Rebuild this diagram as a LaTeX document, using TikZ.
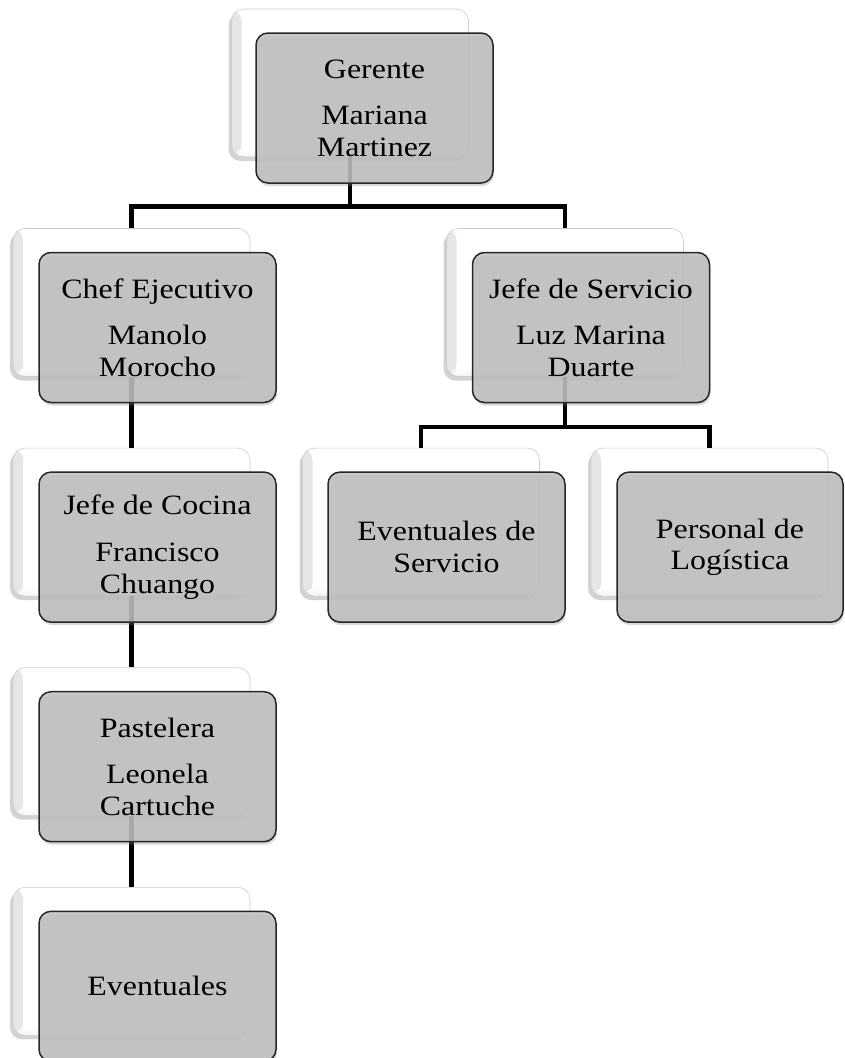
\documentclass[tikz,border=0pt]{standalone}
\usepackage{fontspec}
\setmainfont{Liberation Serif}[FakeStretch=1.14]
\usetikzlibrary{positioning, shadows}
\tikzset{
cargo/.style={draw=black!85, line width=1.5pt, rounded corners=12pt, fill=black!25, fill opacity=.85, text opacity=1, minimum width=237pt, minimum height=150pt, inner sep=0pt, align=center, font=\fontsize{28}{31.6}\selectfont, drop shadow={shadow xshift=1pt, shadow yshift=-3pt, opacity=.3}}, % caja gris del frente
sombra/.style={draw=black!20, line width=.6pt, rounded corners=12pt, fill=white, minimum width=237pt, minimum height=148pt, inner sep=0pt, drop shadow={shadow xshift=-3pt, shadow yshift=-4pt, opacity=.35},
  path picture={
    \shade[left color=black!10, right color=white] (path picture bounding box.south west) rectangle ([xshift=10pt]path picture bounding box.north west);
    \shade[bottom color=black!8, top color=white, fill opacity=.6] (path picture bounding box.south west) rectangle ([yshift=8pt]path picture bounding box.south east);
  }}, % caja blanca de atras
linea/.style={line width=4.5pt, draw=black},
}

\begin{document}
\begin{tikzpicture}[x=1pt, y=1pt, node distance=71pt]
    \useasboundingbox (0,0) rectangle (845,-1058);
    % cajas de atras
    \node[sombra] (gerS) at (350,-83) {};
    \node[sombra] (chefS) at (131.5,-302.5) {};
    \node[sombra] (servS) at (565,-302.5) {};
    \node[sombra, below=of chefS] (cocS) {};
    \node[sombra, below=of cocS] (pasS) {};
    \node[sombra, below=of pasS] (eveS) {};
    \node[sombra, below=of servS, xshift=-144pt] (evsS) {};
    \node[sombra, below=of servS, xshift=144.5pt] (logS) {};
    % lineas
    \draw[linea] (gerS.south) -- ++(0,-49) -| (chefS.north);
    \draw[linea] (gerS.south) -- ++(0,-49) -| (servS.north);
    \draw[linea] (chefS.south) -- (cocS.north);
    \draw[linea] (cocS.south) -- (pasS.north);
    \draw[linea] (pasS.south) -- (eveS.north);
    \draw[linea] (servS.south) -- ++(0,-50) -| (evsS.north);
    \draw[linea] (servS.south) -- ++(0,-50) -| (logS.north);
    % cajas del frente
    \node[cargo] (ger) at ([shift={(24.5,-25)}]gerS) {Gerente\\[15pt]Mariana\\Martinez};
    \node[cargo] (chef) at ([shift={(26,-25)}]chefS) {Chef Ejecutivo\\[15pt]Manolo\\Morocho};
    \node[cargo] (serv) at ([shift={(26,-25)}]servS) {Jefe de Servicio\\[15pt]Luz Marina\\Duarte};
    \node[cargo] (coc) at ([shift={(26,-25)}]cocS) {Jefe de Cocina\\[15pt]Francisco\\Chuango};
    \node[cargo] (pas) at ([shift={(26,-25)}]pasS) {Pastelera\\[15pt]Leonela\\Cartuche};
    \node[cargo] (eve) at ([shift={(26,-25)}]eveS) {Eventuales};
    \node[cargo] (evs) at ([shift={(25.5,-25)}]evsS) {Eventuales de\\Servicio};
    \node[cargo, minimum width=226pt] (log) at ([shift={(20.5,-25)}]logS) {Personal de\\Log\'{\i}stica};
\end{tikzpicture}
\end{document}
